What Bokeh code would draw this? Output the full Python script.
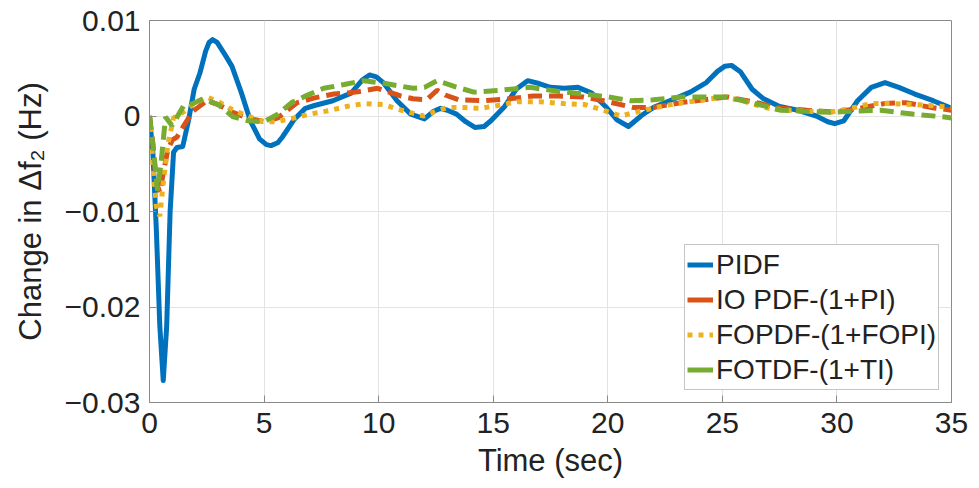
from bokeh.plotting import figure
from bokeh.models import FixedTicker, Legend, LegendItem, Range1d
from bokeh.embed import file_html
from bokeh.resources import INLINE

# ---- data ----
t_pidf = [0, 0.15, 0.3, 0.45, 0.6, 0.75, 0.9, 1.05, 1.2, 1.45, 1.7, 1.95, 2.2, 2.45, 2.6, 2.75, 2.95, 3.3, 3.6, 4.0, 4.4,
          4.8, 5.1, 5.3, 5.6, 5.8, 6.3, 6.8, 7.2, 8.0, 8.8, 9.3, 9.6, 9.9, 10.2, 10.8, 11.4, 12.0, 12.4, 12.7, 13.0,
          13.4, 13.8, 14.2, 14.6, 14.9, 15.5, 16.0, 16.5, 17.0, 17.5, 18.1, 18.7, 19.3, 19.9, 20.4, 20.9, 21.5,
          22.0, 22.7, 23.6, 24.3, 24.8, 25.1, 25.4, 25.8, 26.3, 26.8, 27.5, 28.3, 29.1, 29.6, 29.9, 30.3, 30.9,
          31.5, 32.1, 32.7, 33.4, 34.2, 35]
y_pidf = [0, -0.004, -0.012, -0.022, -0.0277, -0.022, -0.010, -0.0038, -0.0033, -0.0032, -0.0005, 0.0028, 0.0045,
          0.0068, 0.0077, 0.0080, 0.0077, 0.0064, 0.0052, 0.0025, -0.0005, -0.0024, -0.0030, -0.0031, -0.0028,
          -0.0022, -0.0004, 0.0008, 0.0011, 0.0016, 0.0024, 0.0038, 0.0043, 0.0041, 0.0035, 0.0016, 0.0002,
          -0.0003, 0.0005, 0.0008, 0.0006, 0.0002, -0.0006, -0.0012, -0.0011, -0.0005, 0.0010, 0.0028, 0.0037,
          0.0034, 0.0030, 0.0029, 0.0030, 0.0024, 0.0010, -0.0004, -0.0011, 0.0001, 0.0009, 0.0016, 0.0025,
          0.0035, 0.0047, 0.0052, 0.0053, 0.0046, 0.0028, 0.0018, 0.0010, 0.0006, 0.0000, -0.0006, -0.0008,
          -0.0005, 0.0016, 0.0030, 0.0035, 0.0030, 0.0023, 0.0016, 0.0008]

t_io = [0, 0.15, 0.3, 0.45, 0.6, 0.8, 1.0, 1.2, 1.5, 1.9, 2.5, 3.0, 3.6, 4.4, 5.07, 5.6, 6.45, 7.2, 8.05, 9.0,
        9.95, 10.96, 11.5, 12.1, 12.55, 12.9, 13.5, 14.6, 15.7, 16.75, 17.8, 18.95, 20.0, 21.1, 22.0, 23.2,
        24.2, 25.2, 26.3, 27.55, 28.7, 29.87, 31.0, 32.06, 33.0, 34.1, 35]
y_io = [0, -0.003, -0.007, -0.008, -0.006, -0.0035, -0.0025, -0.0022, -0.0010, 0.0005, 0.0016, 0.0012, 0.0004,
        -0.0003, -0.0006, -0.0002, 0.0014, 0.0019, 0.0023, 0.0025, 0.0029, 0.0021, 0.0018, 0.0017, 0.0027,
        0.0022, 0.0017, 0.0016, 0.0018, 0.0021, 0.0021, 0.0020, 0.0015, 0.0009, 0.0009, 0.0014, 0.0017,
        0.0020, 0.0015, 0.0008, 0.0006, 0.0004, 0.0008, 0.0013, 0.0014, 0.0009, 0.0006]

t_fo = [0, 0.15, 0.3, 0.45, 0.6, 0.8, 1.05, 1.4, 1.9, 2.5, 3.0, 3.5, 3.97, 4.5, 4.97, 5.5, 6.15, 7.0, 7.9, 8.6,
        9.35, 10.2, 11.0, 11.97, 12.5, 13.0, 13.7, 14.45, 15.2, 16.05, 17.0, 18.08, 19.0, 19.8, 20.56, 21.4,
        22.5, 23.9, 25.1, 26.0, 26.8, 27.8, 28.7, 29.7, 30.6, 31.5, 32.5, 33.3, 34.1, 35]
y_fo = [0, -0.005, -0.0095, -0.0105, -0.007, -0.003, -0.0002, 0.0003, 0.0012, 0.0020, 0.0015, 0.0008, 0.0003,
        -0.0002, -0.0006, -0.0006, -0.0003, 0.0002, 0.0006, 0.0010, 0.0013, 0.0012, 0.0006, 0.0000, 0.0005,
        0.0009, 0.0009, 0.0008, 0.0011, 0.0015, 0.0015, 0.0013, 0.0012, 0.0006, 0.0000, 0.0005, 0.0011,
        0.0016, 0.0020, 0.0015, 0.0009, 0.0006, 0.0005, 0.0004, 0.0008, 0.0013, 0.0013, 0.0012, 0.0011, 0.0009]

t_ft = [0, 0.15, 0.35, 0.5, 0.7, 0.98, 1.5, 1.9, 2.35, 3.0, 3.66, 4.3, 5.0, 5.6, 6.2, 6.9, 7.6, 8.5, 9.35, 10.3,
        11.5, 12.0, 12.55, 13.3, 14.15, 15.3, 16.6, 17.8, 18.95, 20.0, 21.0, 22.0, 23.2, 24.2, 25.1, 26.3,
        27.55, 28.6, 29.7, 30.8, 31.9, 33.3, 34.7, 35]
y_ft = [0, -0.003, -0.0078, -0.005, -0.0001, -0.0010, 0.0011, 0.0013, 0.0018, 0.0012, -0.0001, -0.0005, -0.0006,
        0.0002, 0.0014, 0.0022, 0.0029, 0.0033, 0.0037, 0.0034, 0.0029, 0.0030, 0.0037, 0.0031, 0.0025, 0.0027,
        0.0030, 0.0026, 0.0023, 0.0020, 0.0016, 0.0017, 0.0020, 0.0020, 0.0020, 0.0014, 0.0006, 0.0005,
        0.0004, 0.0005, 0.0006, 0.0002, -0.0001, -0.0002]

series_names = ["PIDF", "IO PDF-(1+PI)", "FOPDF-(1+FOPI)", "FOTDF-(1+TI)"]
x_ticks = [0, 5, 10, 15, 20, 25, 30, 35]
y_ticks = [-0.03, -0.02, -0.01, 0, 0.01]
y_tick_labels = ["\u22120.03", "\u22120.02", "\u22120.01", "0", "0.01"]

FONT = "Liberation Sans"
AX = "#8a8a8a"
TXT = "#222222"
C1, C2, C3, C4 = "#0072BD", "#D95319", "#EDB120", "#77AC30"

p = figure(width=979, height=488, output_backend="svg", toolbar_location=None,
           x_range=Range1d(0, 35), y_range=Range1d(-0.03, 0.01),
           min_border_left=149, min_border_right=28, min_border_top=20, min_border_bottom=86)
p.background_fill_color = "white"
p.border_fill_color = "white"
p.outline_line_color = AX
p.outline_line_width = 1

p.xaxis.ticker = FixedTicker(ticks=x_ticks)
p.yaxis.ticker = FixedTicker(ticks=y_ticks)
p.yaxis.major_label_overrides = {v: s for v, s in zip(y_ticks, y_tick_labels)}
for ax in (p.xaxis, p.yaxis):
    ax.axis_line_color = AX
    ax.major_tick_line_color = AX
    ax.major_tick_in = 7
    ax.major_tick_out = 0
    ax.minor_tick_line_color = None
    ax.major_label_text_font = FONT
    ax.major_label_text_font_size = "30px"
    ax.major_label_text_color = TXT
    ax.axis_label_text_font = FONT
    ax.axis_label_text_font_size = "31px"
    ax.axis_label_text_font_style = "normal"
    ax.axis_label_text_color = TXT
p.xaxis.axis_label = "Time (sec)"
p.yaxis.axis_label = "Change in \u0394f\u2082 (Hz)"
p.xaxis.major_label_standoff = 10
p.yaxis.major_label_standoff = 9
p.xaxis.axis_label_standoff = 7
p.yaxis.axis_label_standoff = 14

p.xgrid.grid_line_color = "#e3e3e3"
p.ygrid.grid_line_color = "#e3e3e3"

r1 = p.line(t_pidf, y_pidf, line_color=C1, line_width=5, line_join="round")
r2 = p.line(t_io, y_io, line_color=C2, line_width=5, line_dash="14 7")
r3 = p.line(t_fo, y_fo, line_color=C3, line_width=5, line_dash="5 6")
r4 = p.line(t_ft, y_ft, line_color=C4, line_width=5, line_dash="14 7")

# legend-only glyphs (short samples look solid / dotted as in the reference)
nan = float("nan")
g1 = p.line([nan], [nan], line_color=C1, line_width=5)
g2 = p.line([nan], [nan], line_color=C2, line_width=5)
g3 = p.line([nan], [nan], line_color=C3, line_width=5, line_dash="5 6")
g4 = p.line([nan], [nan], line_color=C4, line_width=5)

legend = Legend(items=[LegendItem(label=n, renderers=[r]) for n, r in zip(series_names, [g1, g2, g3, g4])],
                location=(535, 12))
legend.label_text_font = FONT
legend.label_text_font_size = "28px"
legend.label_text_color = TXT
legend.glyph_width = 26
legend.glyph_height = 35
legend.label_height = 35
legend.spacing = 0
legend.padding = 2
legend.margin = 0
legend.label_standoff = 3
legend.border_line_color = AX
legend.background_fill_alpha = 1
p.add_layout(legend, "center")

open("out.html", "w").write(file_html(p, INLINE))
